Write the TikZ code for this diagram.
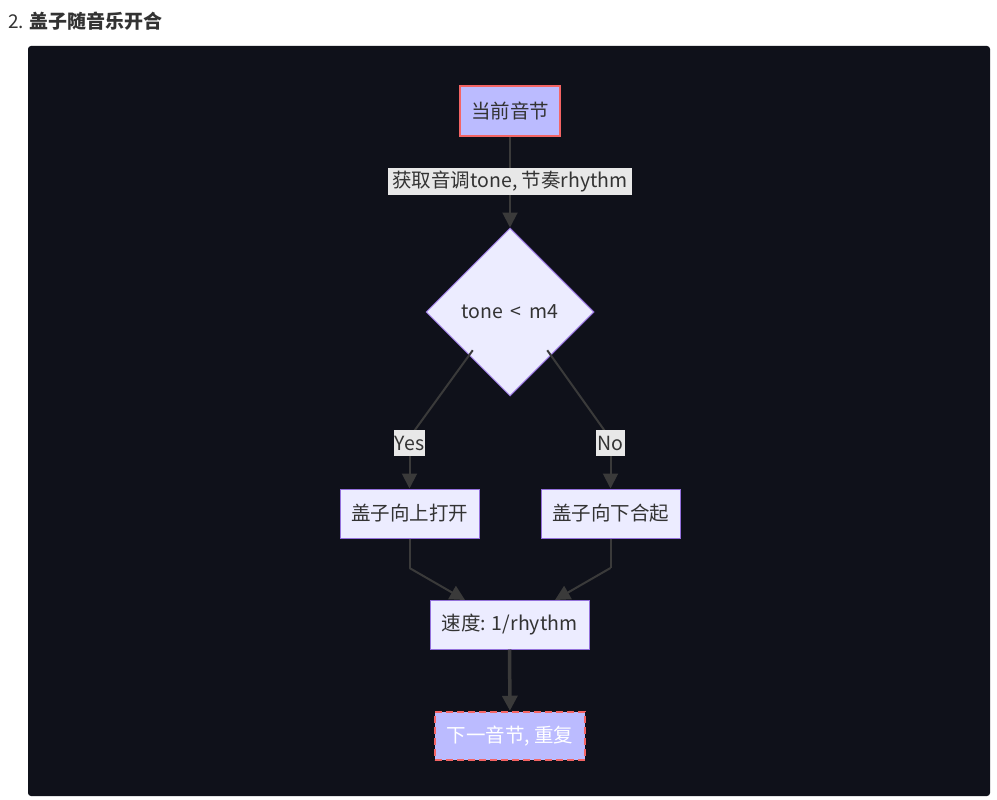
\documentclass[tikz,border=0pt]{standalone}
\usepackage{fontspec}
\setmainfont{Noto Sans CJK SC}
\usetikzlibrary{shapes.geometric,arrows.meta}
\definecolor{panel}{HTML}{0F111A}
\definecolor{lav}{HTML}{BBBBFF}
\definecolor{pale}{HTML}{ECECFF}
\definecolor{purp}{HTML}{9370DB}
\definecolor{redb}{HTML}{F46464}
\definecolor{edge}{HTML}{3A3A3A}
\definecolor{lblbg}{HTML}{E8E8E8}
\definecolor{txt}{HTML}{333333}
\tikzset{
  txtfont/.style={font=\fontsize{19.5}{21}\selectfont},
  box/.style={draw=purp, line width=1pt, fill=pale, text=txt, inner sep=0pt, txtfont},
  hot/.style={draw=redb, line width=2.5pt, fill=lav, text=txt, inner sep=0pt, txtfont},
  lbl/.style={fill=lblbg, text=txt, inner sep=0pt, txtfont},
  conn/.style={draw=edge, line width=2pt, -{Triangle[length=15pt,width=15pt]}},
  plain/.style={draw=edge, line width=2pt},
}
\begin{document}
\begin{tikzpicture}[x=1pt,y=-1pt]
\useasboundingbox (0,0) rectangle (997,800);
\fill[white] (0,0) rectangle (997,800);
\node[anchor=west, text=txt, inner sep=0pt, font=\fontsize{19}{21}\selectfont] (title) at (8,21) {2. \textbf{盖子随音乐开合}};
\fill[panel, rounded corners=3pt] (28,46) rectangle (990,796);

\node[hot, minimum width=100pt, minimum height=50pt] (cur) at (510,111) {当前音节};
\node[box, diamond, aspect=1, minimum width=168pt, minimum height=168pt] (dec) at (510,312) {tone \,<\, m4};
\node[box, minimum width=139pt, minimum height=49pt] (open) at (409.5,513.5) {盖子向上打开};
\node[box, minimum width=139pt, minimum height=49pt] (close) at (610.5,513.5) {盖子向下合起};
\node[box, minimum width=159pt, minimum height=49pt] (speed) at (509.5,624.5) {速度: 1/rhythm};
\node[draw=redb, dashed, dash pattern=on 7pt off 4pt, line width=2.5pt, fill=lav, text=white, inner sep=0pt, txtfont, minimum width=150pt, minimum height=48pt] (next) at (510,736) {下一音节, 重复};

\coordinate (yk) at (412,434);
\coordinate (nk) at (607,434);
\coordinate (ob) at (409.5,568);
\coordinate (cb) at (610.5,568);

\draw[conn] (cur) -- (dec);
\draw[plain] (dec.south west) ++(5,-4) coordinate (ys) -- (yk) -- (409.5,446);
\draw[conn] (409.5,446) -- (open);
\draw[plain] (dec.south east) ++(-5,-4) coordinate (ns) -- (nk) -- (610.5,446);
\draw[conn] (610.5,446) -- (close);
\draw[plain] (open) -- (ob);
\draw[conn] (ob) -- (465,600);
\draw[plain] (close) -- (cb);
\draw[conn] (cb) -- (555,600);
\draw[draw=edge, line width=3.5pt, -{Triangle[length=15pt,width=15pt]}] (speed) -- (next);

\node[lbl, minimum width=244pt, minimum height=27pt] (l1) at (510,181.5) {获取音调tone, 节奏rhythm};
\node[lbl, minimum width=31pt, minimum height=26pt] (ly) at (409.5,443) {Yes};
\node[lbl, minimum width=29pt, minimum height=26pt] (ln) at (610.5,443) {No};
\end{tikzpicture}
\end{document}
